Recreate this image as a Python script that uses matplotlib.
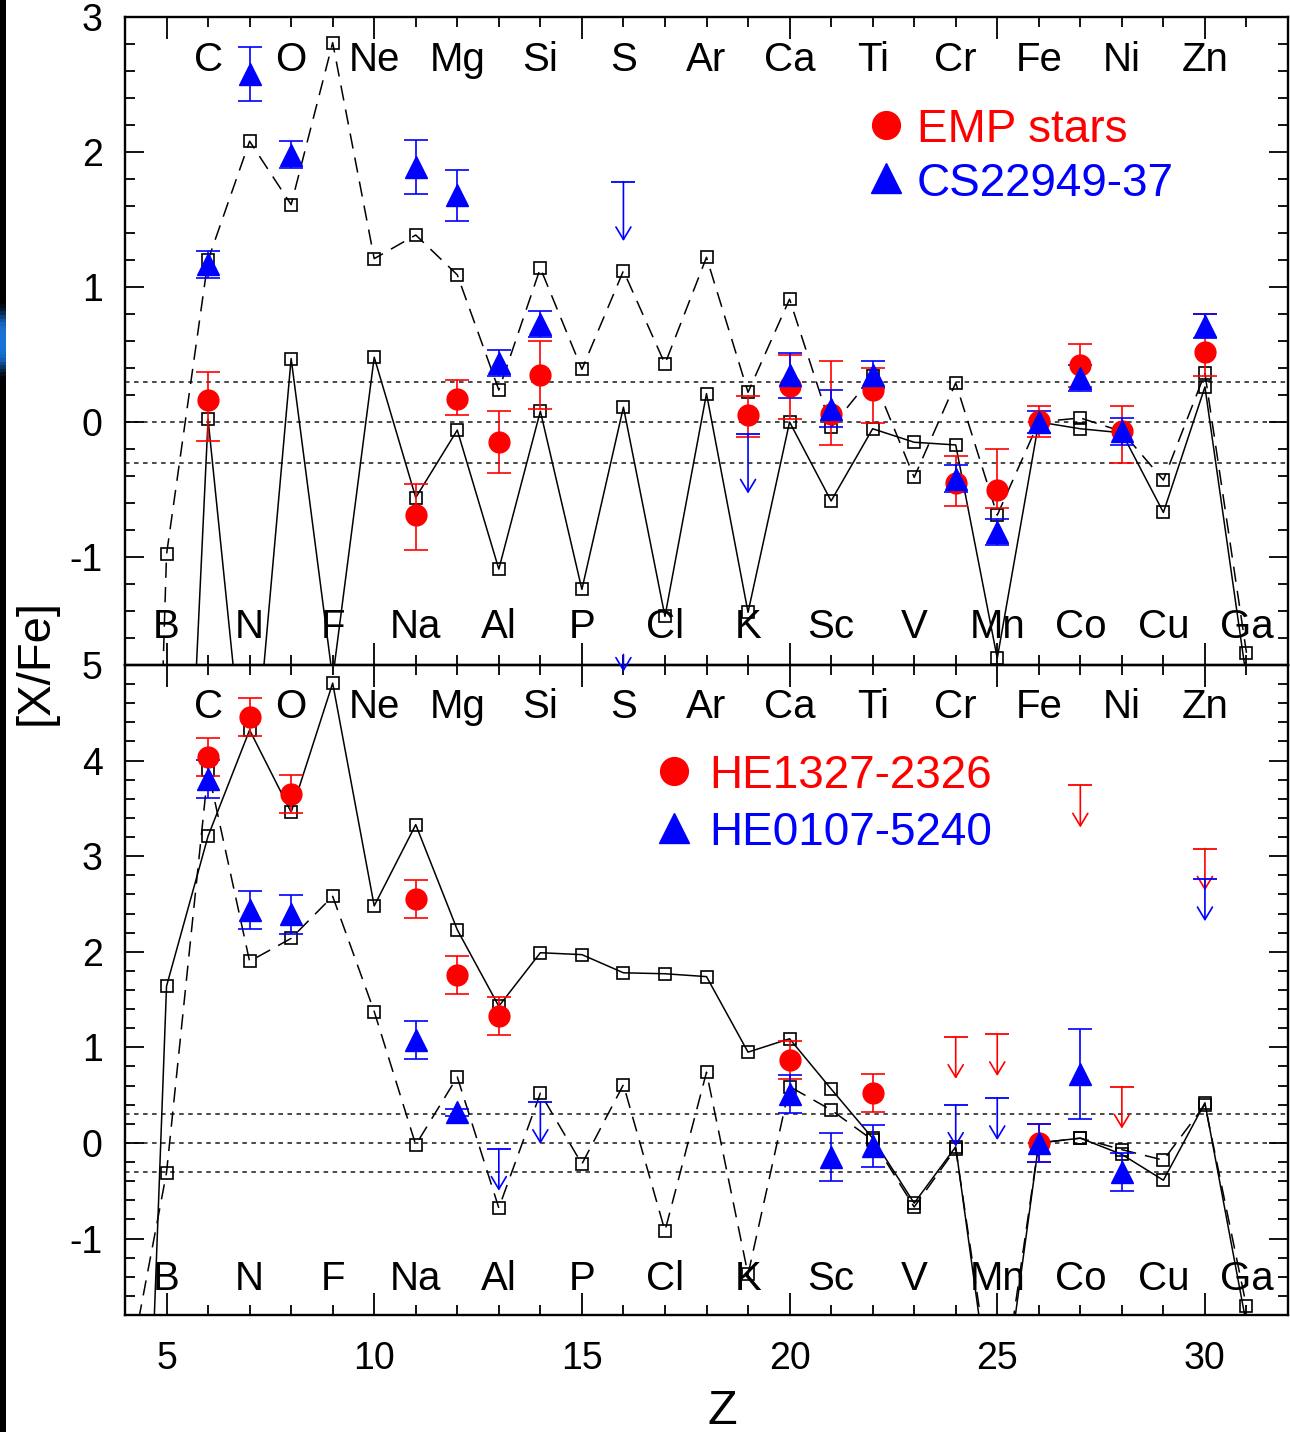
import numpy as np
import matplotlib
matplotlib.use("Agg")
import matplotlib.pyplot as plt

plt.rcParams['font.family'] = ['Liberation Sans Narrow', 'Liberation Sans', 'DejaVu Sans']
plt.rcParams['axes.unicode_minus'] = False

# ---------------- data ----------------
Z_model = list(range(4, 32))
# top panel model curves (Z = 4 .. 31)
top_dashed = [-11.0, -0.98, 1.20, 2.08, 1.61, 2.81, 1.21, 1.385, 1.09, 0.237, 1.14, 0.39, 1.12, 0.43,
              1.22, 0.22, 0.91, -0.04, 0.34, -0.41, 0.29, -0.69, 0.00, 0.03, -0.07, -0.43, 0.36, -1.71]
top_solid = [-14.0, -6.5, 0.02, -3.0, 0.47, -1.9, 0.48, -0.56, -0.06, -1.09, 0.08, -1.24, 0.11, -1.44,
             0.21, -1.41, 0.00, -0.585, -0.05, -0.15, -0.17, -1.75, 0.00, -0.05, -0.08, -0.67, 0.26, -1.9]
# bottom panel model curves (Z = 4 .. 31)
bot_solid = [-10.1, 1.64, 3.21, 4.32, 3.46, 4.81, 2.48, 3.33, 2.23, 1.43, 1.99, 1.97, 1.78, 1.77,
             1.74, 0.95, 1.09, 0.565, 0.05, -0.63, -0.04, -3.2, 0.00, 0.05, -0.12, -0.39, 0.42, -1.9]
bot_dashed = [-2.6, -0.31, 3.90, 1.90, 2.14, 2.58, 1.375, -0.02, 0.69, -0.68, 0.52, -0.22, 0.61, -0.92,
              0.74, -1.375, 0.59, 0.345, 0.03, -0.67, -0.06, -3.0, 0.00, 0.05, -0.07, -0.18, 0.40, -1.71]

# EMP stars (top, red circles)
emp_Z = [6, 11, 12, 13, 14, 19, 20, 21, 22, 24, 25, 26, 27, 28, 30]
emp_val = [0.16, -0.69, 0.17, -0.15, 0.35, 0.05, 0.27, 0.06, 0.24, -0.45, -0.50, 0.01, 0.42, -0.07, 0.52]
emp_lo = [0.30, 0.26, 0.12, 0.23, 0.25, 0.16, 0.25, 0.23, 0.25, 0.17, 0.14, 0.12, 0.16, 0.23, 0.18]
emp_hi = [0.21, 0.23, 0.14, 0.23, 0.25, 0.14, 0.23, 0.39, 0.16, 0.20, 0.30, 0.11, 0.16, 0.19, 0.28]

# CS22949-37 (top, blue triangles)
cs_Z = [6, 7, 8, 11, 12, 13, 14, 20, 21, 22, 24, 25, 26, 27, 28, 30]
cs_val = [1.17, 2.575, 1.98, 1.89, 1.68, 0.435, 0.725, 0.345, 0.10, 0.35, -0.42, -0.815, 0.0, 0.325, -0.07, 0.71]
cs_err = [0.10, 0.20, 0.10, 0.20, 0.19, 0.095, 0.095, 0.165, 0.14, 0.10, 0.10, 0.095, 0.08, 0.095, 0.10, 0.09]
cs_ul_Z = [16, 19]
cs_ul_val = [1.78, -0.09]

# HE1327-2326 (bottom, red circles)
he13_Z = [6, 7, 8, 11, 12, 13, 20, 22, 26]
he13_val = [4.04, 4.46, 3.65, 2.55, 1.76, 1.33, 0.87, 0.52, 0.0]
he13_err = [0.2, 0.2, 0.2, 0.2, 0.2, 0.2, 0.2, 0.2, 0.2]
he13_ul_Z = [24, 25, 27, 28, 30]
he13_ul_val = [1.11, 1.14, 3.74, 0.59, 3.08]

# HE0107-5240 (bottom, blue triangles)
he01_Z = [6, 7, 8, 11, 12, 20, 21, 22, 26, 27, 28]
he01_val = [3.81, 2.44, 2.39, 1.08, 0.32, 0.515, -0.15, -0.03, 0.0, 0.72, -0.30]
he01_err = [0.2, 0.2, 0.2, 0.2, 0.04, 0.2, 0.25, 0.22, 0.2, 0.47, 0.2]
he01_ul_Z = [13, 14, 24, 25, 30]
he01_ul_val = [-0.06, 0.43, 0.40, 0.47, 2.76]
he01_S_Z = [16]
he01_S_val = [5.11]

even_labels = ['C', 'O', 'Ne', 'Mg', 'Si', 'S', 'Ar', 'Ca', 'Ti', 'Cr', 'Fe', 'Ni', 'Zn']
even_Z = list(range(6, 31, 2))
odd_labels = ['B', 'N', 'F', 'Na', 'Al', 'P', 'Cl', 'K', 'Sc', 'V', 'Mn', 'Co', 'Cu', 'Ga']
odd_Z = list(range(5, 32, 2))

RED = '#ff0000'
BLUE = '#0000ff'
ARROW_LEN = 0.44

# ---------------- figure ----------------
W, H = 1290, 1432
fig = plt.figure(figsize=(W / 100, H / 100), dpi=100)
left = 125 / W
width = (1288 - 125) / W
ax1 = fig.add_axes([left, 1 - 665 / H, width, (665 - 17) / H])
ax2 = fig.add_axes([left, 1 - 1315 / H, width, (1315 - 665) / H], sharex=ax1)
ax1.set_facecolor('none')
ax2.set_facecolor('none')

# left black strip with blue glow
axs = fig.add_axes([0, 0, 6 / W, 1])
yy = np.linspace(0, H, 400)
glow = np.exp(-((yy - 340) / 28.0) ** 4)
img = np.zeros((400, 1, 3))
img[:, 0, 0] = 0.10 * glow
img[:, 0, 1] = 0.45 * glow
img[:, 0, 2] = 0.85 * glow
axs.imshow(img, aspect='auto', extent=[0, 1, H, 0])
axs.set_axis_off()

def style_axis(ax, ylim, yticks):
    ax.set_xlim(4, 32)
    ax.set_ylim(*ylim)
    ax.set_yticks(yticks)
    ax.set_yticks(np.arange(ylim[0], ylim[1] + 0.001, 0.2), minor=True)
    ax.set_xticks([5, 10, 15, 20, 25, 30])
    ax.set_xticks(range(4, 33), minor=True)
    ax.tick_params(which='both', direction='in', top=True, right=True, width=1.3, labelsize=27)
    ax.tick_params(which='major', axis='x', length=16, pad=19)
    ax.tick_params(which='minor', axis='x', length=7)
    ax.tick_params(which='major', axis='y', length=14, pad=16)
    ax.tick_params(which='minor', axis='y', length=7)
    for s in ax.spines.values():
        s.set_linewidth(1.7)
    for yv in (0.3, 0.0, -0.3):
        ax.axhline(yv, color='#3a3a3a', lw=1.3, ls=(0, (2.5, 2.5)), zorder=1)

style_axis(ax1, (-1.8, 3.0), [-1, 0, 1, 2, 3])
style_axis(ax2, (-1.8, 5.0), [-1, 0, 1, 2, 3, 4, 5])
plt.setp(ax1.get_xticklabels(), visible=False)
ax1.set_yticklabels(['-1', '0', '1', '2', '3'])
ax2.set_yticklabels(['-1', '0', '1', '2', '3', '4', '5'])

def models(ax, solid, dashed):
    ax.plot(Z_model, solid, color='black', lw=1.1, marker='s', ms=9, mfc='none', mec='black', mew=1.2, zorder=2)
    ax.plot(Z_model, dashed, color='black', lw=1.1, ls=(0, (10, 6)), marker='s', ms=9, mfc='none',
            mec='black', mew=1.2, zorder=2)

models(ax1, top_solid, top_dashed)
models(ax2, bot_solid, bot_dashed)

def points(ax, Z, v, err, color, marker, ms):
    ax.errorbar(Z, v, yerr=err, fmt=marker, color=color, ms=ms, mec=color, mfc=color, elinewidth=1.2,
                capsize=8.5, capthick=1.2, zorder=4)

def upper_limits(ax, Z, v, color, cap=True):
    for z, val in zip(Z, v):
        ax.annotate('', xy=(z, val - ARROW_LEN * (1 if cap else 0.41)), xytext=(z, val),
                    arrowprops=dict(arrowstyle='->,head_length=0.5,head_width=0.3', color=color, lw=1.2,
                                    shrinkA=0, shrinkB=0, mutation_scale=18),
                    annotation_clip=False, zorder=4)
        if cap:
            ax.plot([z], [val], marker='_', ms=17, mew=1.3, color=color, zorder=4)

points(ax1, emp_Z, emp_val, [emp_lo, emp_hi], RED, 'o', 15)
points(ax1, cs_Z, cs_val, cs_err, BLUE, '^', 16)
upper_limits(ax1, cs_ul_Z, cs_ul_val, BLUE)

points(ax2, he13_Z, he13_val, he13_err, RED, 'o', 15)
upper_limits(ax2, he13_ul_Z, he13_ul_val, RED)
points(ax2, he01_Z, he01_val, he01_err, BLUE, '^', 16)
upper_limits(ax2, he01_ul_Z, he01_ul_val, BLUE)
upper_limits(ax2, he01_S_Z, he01_S_val, BLUE, cap=False)

# element labels
for ax, (ytop, ybot) in ((ax1, (0.917, 0.0417)), (ax2, (0.918, 0.0385))):
    tr = ax.get_xaxis_transform()
    for z, lab in zip(even_Z, even_labels):
        ax.text(z, ytop, lab, transform=tr, ha='center', va='baseline', fontsize=29, zorder=6)
    for z, lab in zip(odd_Z, odd_labels):
        ax.text(z, ybot, lab, transform=tr, ha='center', va='baseline', fontsize=29, zorder=6)

# legends
def legend(ax, xm, xt, entries):
    for (ym, yb, marker, ms, color, label) in entries:
        ax.plot([xm], [ym], marker=marker, ms=ms, color=color, transform=ax.transAxes, clip_on=False)
        ax.text(xt, yb, label, color=color, transform=ax.transAxes, fontsize=33, va='baseline', ha='left')

legend(ax1, 0.654, 0.681, [(0.833, 0.807, 'o', 20, RED, 'EMP stars'),
                           (0.7515, 0.724, '^', 21, BLUE, 'CS22949-37')])
legend(ax2, 0.4717, 0.502, [(0.837, 0.811, 'o', 20, RED, 'HE1327-2326'),
                            (0.749, 0.723, '^', 21, BLUE, 'HE0107-5240')])

fig.text(36 / W, 1 - 662 / H, '[X/Fe]', rotation=90, ha='center', va='center', fontsize=34,
         family=['Liberation Sans', 'DejaVu Sans'])
fig.text(722 / W, 1 - 1412 / H, 'Z', ha='center', va='center', fontsize=35)

fig.savefig('out.png', dpi=100)
